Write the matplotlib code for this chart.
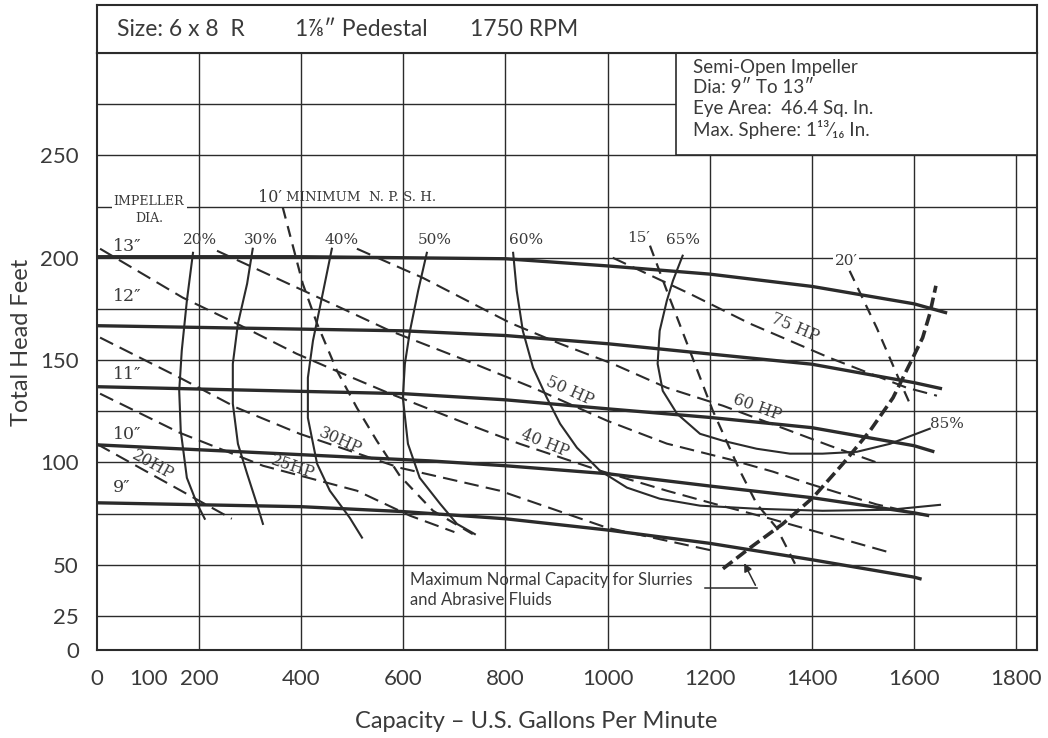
import numpy as np
import matplotlib
matplotlib.use('Agg')
import matplotlib.pyplot as plt
from matplotlib.patches import Rectangle

plt.rcParams['font.family'] = ['Lato', 'DejaVu Sans']

INK = '#2b2b2b'
TXT = '#3a3a3a'
SERIF = ['DejaVu Serif', 'DejaVu Sans']

# axis ticks / grid
x_ticks = [0, 100, 200, 400, 600, 800, 1000, 1200, 1400, 1600, 1800]
y_ticks = [0, 25, 50, 100, 150, 200, 250]
grid_q = [200, 400, 600, 800, 1000, 1200, 1400, 1600, 1800]
grid_h = [25, 50, 75, 100, 125, 150, 175, 200, 225, 250, 275]

# impeller head curves (gpm, ft)
dia_labels = ['13″', '12″', '11″', '10″', '9″']
dia_13_q = [0, 400, 800, 1000, 1200, 1400, 1600, 1665]
dia_13_h = [200.5, 200.5, 199.5, 196, 192, 186, 177.5, 173]
dia_12_q = [0, 600, 800, 1000, 1200, 1400, 1600, 1655]
dia_12_h = [166.8, 164.3, 162, 158, 153, 148, 139, 136]
dia_11_q = [0, 600, 800, 1000, 1200, 1400, 1600, 1640]
dia_11_h = [137, 133.6, 130.6, 126.2, 122, 117, 108.2, 105.2]
dia_10_q = [0, 400, 650, 800, 1000, 1200, 1400, 1600, 1630]
dia_10_h = [108.6, 103.8, 100.8, 98.4, 94.5, 88.5, 82.8, 75.4, 74]
dia_9_q = [0, 400, 600, 800, 1000, 1200, 1400, 1600, 1615]
dia_9_h = [80.3, 78.4, 76, 72.5, 67, 60.5, 52.5, 44, 43]

# efficiency curves
eff_20_q = [188, 176, 166, 161, 164, 176, 196, 211]
eff_20_h = [202.4, 179, 154.6, 135, 115.5, 92.5, 79.8, 72.5]
eff_30_q = [305, 294, 276, 266, 266, 276, 294, 313, 325]
eff_30_h = [204.4, 187.3, 167.8, 148.2, 128.7, 109.1, 94.5, 79.8, 70]
eff_40_q = [460, 442, 423, 413, 413, 431, 456, 495, 519]
eff_40_h = [204.4, 182.4, 159.5, 141.4, 121.8, 99.4, 86.2, 73, 63.3]
eff_50_q = [646, 629, 613, 603, 599, 609, 632, 672, 705, 740]
eff_50_h = [202.4, 183.9, 164.3, 148.2, 131.6, 109.1, 92.5, 79.8, 70, 65]
eff_60_q = [815, 822, 834, 854, 881, 907, 940, 985, 1038, 1102, 1181, 1292, 1421, 1553, 1651]
eff_60_h = [202.4, 183.9, 164.3, 146.3, 131.6, 118.9, 107.2, 96, 87.7, 82.3, 78.9, 77.4, 76.4, 76.9, 79.3]
eff_65_q = [1147, 1128, 1116, 1102, 1098, 1108, 1136, 1181, 1226, 1292, 1357, 1421, 1488, 1553, 1631]
eff_65_h = [201, 188.8, 179, 164.3, 148.2, 135, 123.8, 114, 110.6, 106.7, 104.3, 104.3, 105.2, 109.1, 116.5]

# horsepower lines
hp_20_q = [0, 200, 264]
hp_20_h = [109, 81.3, 72.5]
hp_25_q = [6, 162, 325, 509, 613, 700]
hp_25_h = [133.6, 114.5, 98.4, 86.2, 74, 66]
hp_30_q = [6, 162, 274, 397, 593, 789, 999, 1206]
hp_30_h = [161, 141.4, 126.7, 114, 97.4, 86.2, 68.1, 56.9]
hp_40_q = [6, 168, 274, 391, 482, 574, 724, 828, 985, 1116, 1206, 1312, 1553]
hp_40_h = [204.4, 180.5, 167.8, 153.1, 143.3, 133.6, 118.9, 109.1, 96, 86.2, 80, 73, 56]
hp_50_q = [235, 482, 574, 724, 854, 999, 1116, 1239, 1324, 1396, 1474, 1527, 1617]
hp_50_h = [203.4, 175, 164.3, 149.7, 136.5, 120.4, 109.2, 101.5, 95.5, 89.5, 83.5, 79.5, 74.5]
hp_60_q = [509, 638, 809, 907, 1010, 1116, 1226, 1357, 1435, 1527]
hp_60_h = [204.4, 190.2, 168.2, 158, 148.2, 136.5, 127.7, 115.5, 108.2, 100]
hp_75_q = [1010, 1077, 1161, 1279, 1435, 1500, 1586, 1645]
hp_75_h = [200, 192.2, 182.4, 167.8, 151.1, 144.8, 136.5, 132.6]

# NPSH lines
npsh_10_q = [364, 403, 431, 470, 509, 548, 593, 658, 736]
npsh_10_h = [224.4, 187.3, 167.8, 144.8, 126.7, 110.6, 93.5, 76.4, 65]
npsh_15_q = [1083, 1116, 1161, 1206, 1259, 1292, 1331, 1371]
npsh_15_h = [205.9, 183.9, 154.6, 125.3, 96, 79.8, 68.1, 48.6]
npsh_20_q = [1474, 1527, 1572, 1592]
npsh_20_h = [193.6, 165.8, 139.9, 128.7]

# maximum normal capacity for slurries
max_q = [1226, 1279, 1343, 1402, 1461, 1514, 1559, 1592, 1617, 1631, 1643]
max_h = [48.1, 58.3, 70, 82.8, 99.4, 115.5, 131.6, 148.2, 160.9, 172.6, 186.3]

info_lines = ['Semi-Open Impeller', 'Dia: 9″ To 13″', 'Eye Area:  46.4 Sq. In.',
              'Max. Sphere: 1¹³⁄₁₆ In.']


def fwd(y):
    y = np.asarray(y, dtype=float)
    return np.where(y < 25, 25 - (25 - y) * 0.664, y)


def inv(v):
    v = np.asarray(v, dtype=float)
    return np.where(v < 25, 25 - (25 - v) / 0.664, v)


fig = plt.figure(figsize=(10.48, 7.38), dpi=100)
ax = fig.add_axes([97 / 1048, 88 / 738, 940 / 1048, 597 / 738])
ax.set_yscale('function', functions=(fwd, inv))
ax.set_xlim(0, 1841)
ax.set_ylim(0, 300)

for q in grid_q:
    ax.axvline(q, color=INK, lw=1.0, zorder=1)
for h in grid_h:
    ax.axhline(h, color=INK, lw=1.0, zorder=1)

heads = [(dia_13_q, dia_13_h), (dia_12_q, dia_12_h), (dia_11_q, dia_11_h),
         (dia_10_q, dia_10_h), (dia_9_q, dia_9_h)]
for q, h in heads:
    ax.plot(q, h, color=INK, lw=2.4, solid_capstyle='butt', zorder=3)

effs = [(eff_20_q, eff_20_h), (eff_30_q, eff_30_h), (eff_40_q, eff_40_h),
        (eff_50_q, eff_50_h), (eff_60_q, eff_60_h), (eff_65_q, eff_65_h)]
for q, h in effs:
    ax.plot(q, h, color=INK, lw=1.5, zorder=3)

hps = [(hp_20_q, hp_20_h), (hp_25_q, hp_25_h), (hp_30_q, hp_30_h), (hp_40_q, hp_40_h),
       (hp_50_q, hp_50_h), (hp_60_q, hp_60_h), (hp_75_q, hp_75_h)]
for q, h in hps:
    ax.plot(q, h, color=INK, lw=1.5, ls=(0, (7, 3.5)), zorder=3)

for q, h in [(npsh_10_q, npsh_10_h), (npsh_15_q, npsh_15_h), (npsh_20_q, npsh_20_h)]:
    ax.plot(q, h, color=INK, lw=1.6, ls=(0, (5, 3.5)), zorder=3)

ax.plot(max_q, max_h, color=INK, lw=2.6, ls=(0, (3.3, 1.4)), zorder=3)

# annotation for slurry limit
ax.text(613, 37.5, 'Maximum Normal Capacity for Slurries\nand Abrasive Fluids',
        fontsize=12, color=TXT, ha='left', va='center', linespacing=1.3, zorder=6)
ax.plot([1190, 1292], [38.8, 38.8], color=INK, lw=1.1, zorder=4)
ax.annotate('', xy=(1265, 52), xytext=(1292, 38.8),
            arrowprops=dict(arrowstyle='-|>', color=INK, lw=1.1, mutation_scale=12), zorder=4)

# curve labels
ax.text(102, 227.4, 'IMPELLER', family=SERIF, fontsize=9, color=TXT, ha='center',
        va='center', zorder=6, bbox=dict(fc='white', ec='none', pad=1.5))
ax.text(102, 219, 'DIA.', family=SERIF, fontsize=9, color=TXT, ha='center', va='center', zorder=6)
for lab, y in zip(dia_labels, [205.4, 181, 142.8, 113.5, 88]):
    ax.text(59 if lab != '9″' else 49, y, lab, family=SERIF, fontsize=12.5, color=TXT,
            ha='center', va='center', zorder=6)
for lab, x in zip(['20%', '30%', '40%', '50%', '60%', '65%'], [202, 321, 478, 662, 840, 1147]):
    ax.text(x, 208.5, lab, family=SERIF, fontsize=11, color=TXT, ha='center', va='center', zorder=6)
ax.text(1664, 119, '85%', family=SERIF, fontsize=11, color=TXT, ha='center', va='center', zorder=6)
ax.text(1061, 209.5, '15′', family=SERIF, fontsize=11, color=TXT, ha='center', va='center', zorder=6)
ax.text(1467, 198.5, '20′', family=SERIF, fontsize=11, color=TXT, ha='center', va='center',
        zorder=6, bbox=dict(fc='white', ec='none', pad=1))
ax.text(339, 229.5, '10′', family=SERIF, fontsize=11.5, color=TXT, ha='center', va='center', zorder=6)
ax.text(371, 229.5, 'MINIMUM  N. P. S. H.', family=SERIF, fontsize=9.5, color=TXT, ha='left',
        va='center', zorder=6)

hp_labels = [('20HP', 110, 98.9, -29), ('25HP', 384, 97.9, -19), ('30HP', 476, 110.6, -24),
             ('40 HP', 877, 109.6, -22), ('50 HP', 926, 135, -24), ('60 HP', 1292, 126.7, -20),
             ('75 HP', 1367, 165.8, -23)]
for lab, x, y, r in hp_labels:
    ax.text(x, y, lab, family=SERIF, fontsize=11.5, color=TXT, ha='center', va='center',
            rotation=r, rotation_mode='anchor', zorder=6)

# info box
ax.add_patch(Rectangle((1134, 250), 1841 - 1134, 50, fc='white', ec=INK, lw=1.2, zorder=5,
                       clip_on=False))
for line, y in zip(info_lines, [292.8, 283, 272.8, 262.5]):
    ax.text(1167, y, line, fontsize=13.5, color=TXT, ha='left', va='center', zorder=6)

ax.set_xticks(x_ticks)
ax.set_xticklabels([str(v) for v in x_ticks])
ax.set_yticks(y_ticks)
ax.set_yticklabels([str(v) for v in y_ticks])
ax.minorticks_off()
ax.tick_params(length=0, labelsize=16, colors=TXT)
ax.tick_params(axis='x', pad=14)
ax.tick_params(axis='y', pad=13)
for s in ax.spines.values():
    s.set_linewidth(1.5)
    s.set_color(INK)

# header strip
hax = fig.add_axes([97 / 1048, 685 / 738, 940 / 1048, 48 / 738])
hax.set_xticks([])
hax.set_yticks([])
for s in hax.spines.values():
    s.set_linewidth(1.5)
    s.set_color(INK)
hax.text((117 - 97) / 940, 0.5, 'Size: 6 x 8  R', fontsize=16.5, color=TXT, va='center',
         transform=hax.transAxes)
hax.text((295 - 97) / 940, 0.5, '1⅞″ Pedestal', fontsize=16.5, color=TXT, va='center',
         transform=hax.transAxes)
hax.text((470 - 97) / 940, 0.5, '1750 RPM', fontsize=16.5, color=TXT, va='center',
         transform=hax.transAxes)

fig.text(22 / 1048, (738 - 342) / 738, 'Total Head Feet', rotation=90, fontsize=17,
         color=TXT, ha='center', va='center')
fig.text(536 / 1048, (738 - 722) / 738, 'Capacity – U.S. Gallons Per Minute', fontsize=17,
         color=TXT, ha='center', va='center')

fig.savefig('out.png', dpi=100, facecolor='white')
